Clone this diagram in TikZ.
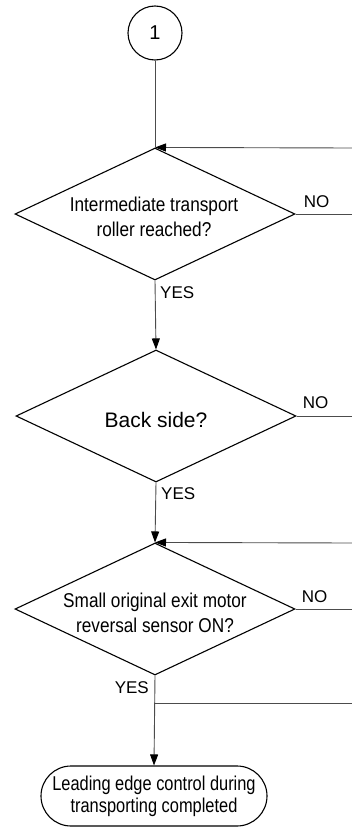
\documentclass[tikz,border=0pt]{standalone}
\usepackage{fontspec}
\setmainfont{Liberation Sans}
\newfontfamily\narrowsans[FakeStretch=0.86]{Liberation Sans}
\newfontfamily\narrowersans[FakeStretch=0.82]{Liberation Sans}
\usetikzlibrary{shapes.geometric,shapes.misc,arrows.meta}
\begin{document}
\begin{tikzpicture}[x=1pt,y=-1pt,
  dia/.style={draw=black,line width=1.1pt,diamond,minimum width=280pt,minimum height=132pt,inner sep=0pt},
  txt/.style={align=center,inner sep=0pt,font=\narrowsans\fontsize{20}{25}\selectfont},
  conn/.style={draw=black!70,line width=0.9pt},
  arr/.style={conn,-{Triangle[length=11pt,width=8pt,black]}},
  lbl/.style={inner sep=0pt,font=\fontsize{17}{20}\selectfont}]
\useasboundingbox (0,0) rectangle (352,827);
\node[draw=black,line width=1.1pt,circle,minimum size=54pt,inner sep=0pt,font=\fontsize{20}{24}\selectfont] (c1) at (155,33) {1};
\node[dia] (d1) at (155,214) {};
\node[txt] (t1) at (154,217) {Intermediate transport\\roller reached?};
\node[dia] (d2) at (156,416) {};
\node[inner sep=0pt,font=\fontsize{21}{25}\selectfont] (t2) at (156,420) {Back side?};
\node[dia] (d3) at (155,609) {};
\node[txt] (t3) at (155,613) {Small original exit motor\\reversal sensor ON?};
\node[draw=black,line width=1.1pt,rounded rectangle,minimum width=226pt,minimum height=60pt,inner sep=0pt,
  align=center,font=\narrowersans\fontsize{20}{22}\selectfont] (e) at (154,796) {Leading edge control during\\transporting completed};
% free ends
\coordinate (r1) at (352,148);
\coordinate (n1) at (352,214);
\coordinate (n2) at (352,416);
\coordinate (r3) at (352,543);
\coordinate (n3) at (352,609);
\coordinate (j) at (155,703);
\coordinate (jr) at (352,703);
% connectors
\draw[conn] (c1.south) -- (d1.north);
\draw[arr] (r1) -- (d1.north);
\draw[conn] (d1.east) -- (n1);
\draw[arr] (d1.south) -- (d2.north);
\draw[conn] (d2.east) -- (n2);
\draw[arr] (d2.south) -- (d3.north);
\draw[arr] (r3) -- (d3.north);
\draw[conn] (d3.east) -- (n3);
\draw[arr] (d3.south) -- (e.north);
\draw[conn] (j) -- (jr);
% labels
\node[lbl,anchor=base west] (no1) at ([xshift=8pt,yshift=7pt]d1.east) {NO};
\node[lbl,anchor=base west] (no2) at ([xshift=6pt,yshift=8pt]d2.east) {NO};
\node[lbl,anchor=base west] (no3) at ([xshift=6pt,yshift=7pt]d3.east) {NO};
\node[lbl,anchor=base west] (y1) at ([xshift=5pt,yshift=-18pt]d1.south) {YES};
\node[lbl,anchor=base west] (y2) at ([xshift=5pt,yshift=-17pt]d2.south) {YES};
\node[lbl,anchor=base east] (y3) at ([xshift=-6pt,yshift=-18pt]d3.south) {YES};
\end{tikzpicture}
\end{document}
